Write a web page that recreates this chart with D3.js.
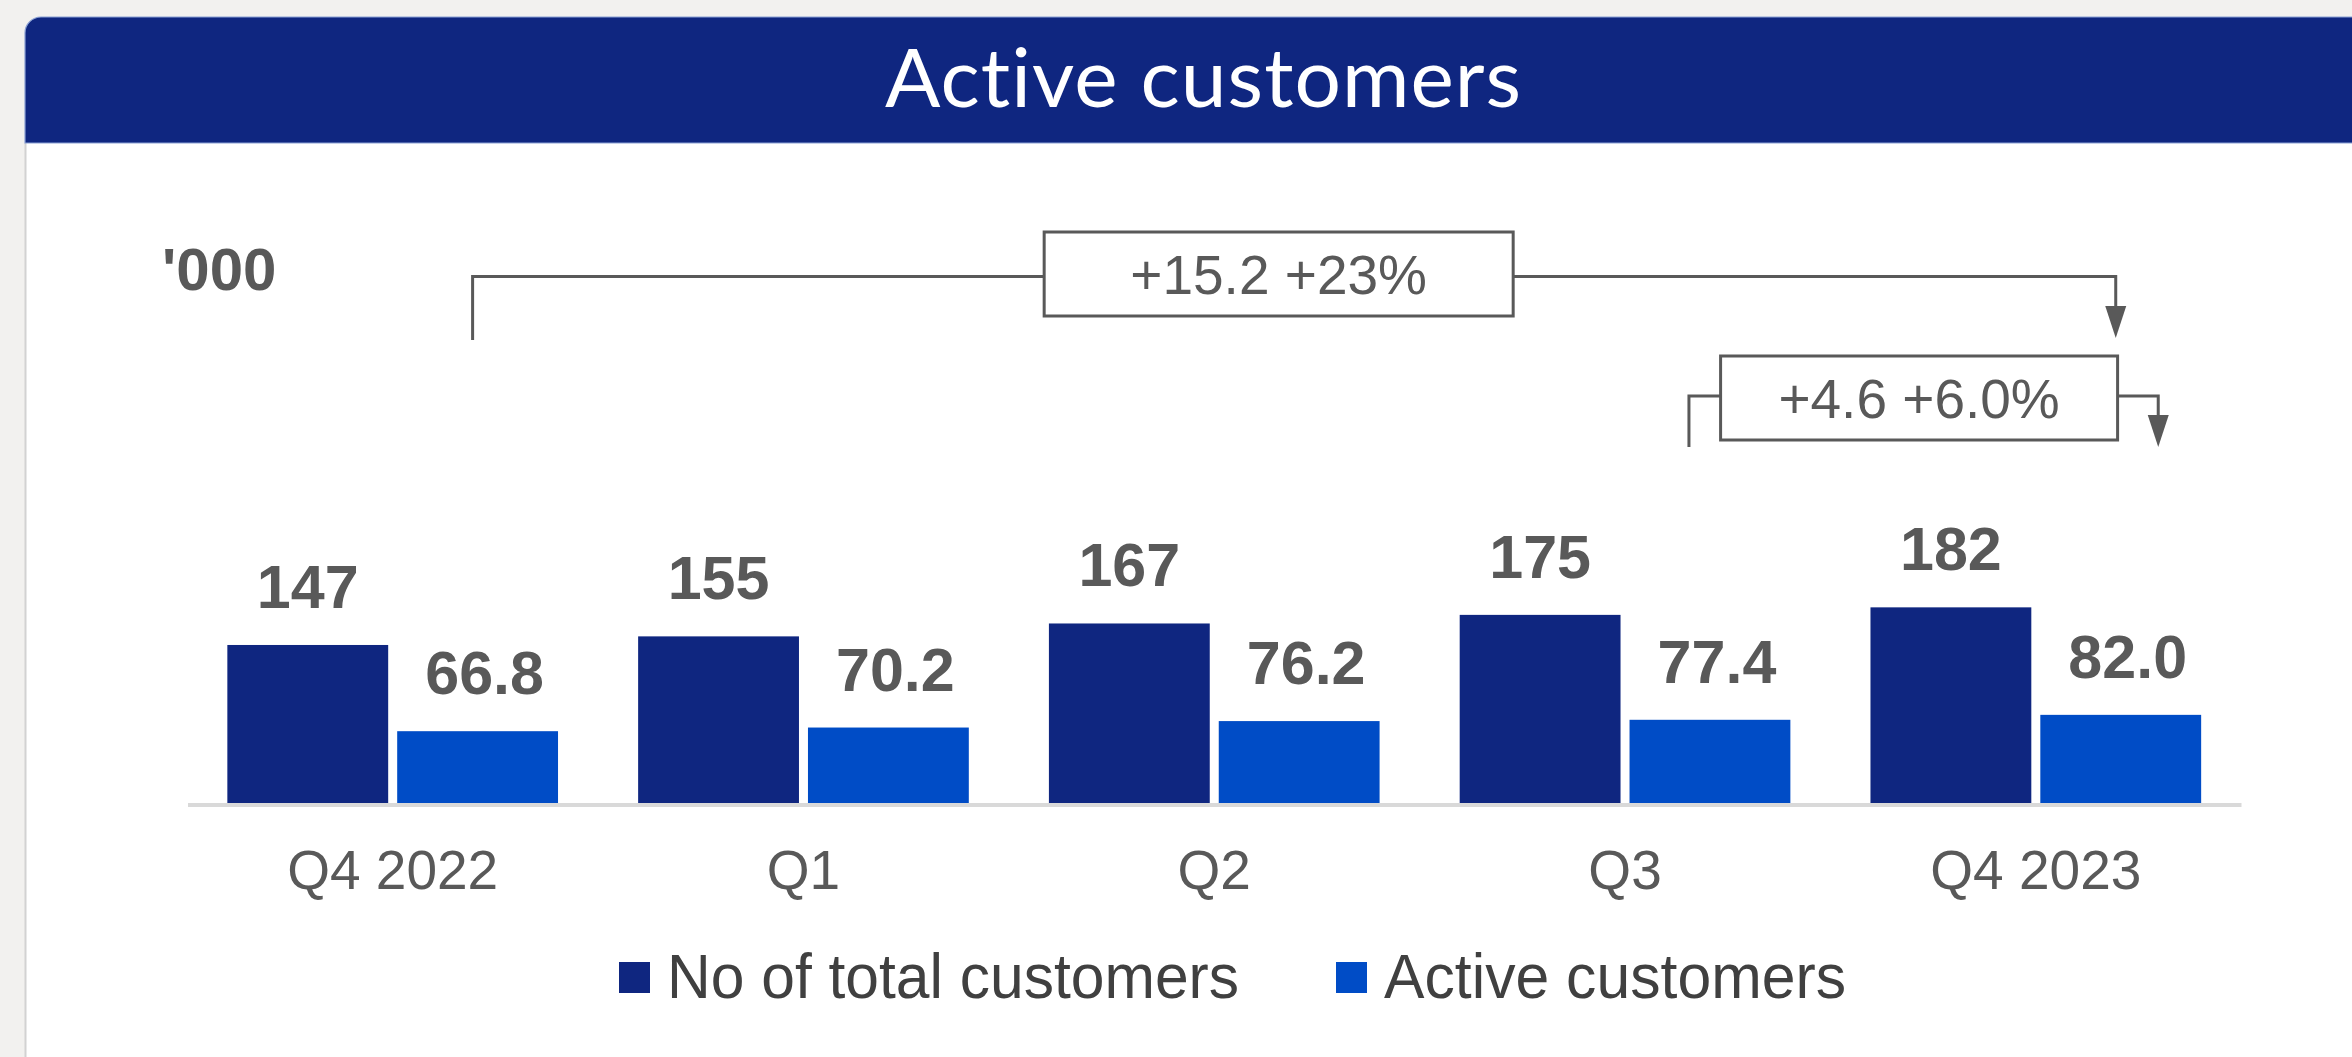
<!DOCTYPE html>
<html>
<head>
<meta charset="utf-8">
<title>Active customers</title>
<script src="https://cdn.jsdelivr.net/npm/d3@7"></script>
<style>
  html, body { margin: 0; padding: 0; background: #f2f1ef; }
  #chart svg { display: block; }
</style>
</head>
<body>
<div id="chart"></div>
<script>
// Data ('000 customers)
const categories = ["Q4 2022", "Q1", "Q2", "Q3", "Q4 2023"];
const seriesNames = ["No of total customers", "Active customers"];
const totalCustomers = [147, 155, 167, 175, 182];
const activeCustomers = [66.8, 70.2, 76.2, 77.4, 82.0];
const seriesColors = ["#0f2680", "#004cc6"];
const changeLabels = ["+15.2 +23%", "+4.6 +6.0%"];
const changeFrom = ["Q4 2022", "Q3"];
const changeTo = ["Q4 2023", "Q4 2023"];

(function(){
    // 1. Dimensions
    const width = 2352;
    const height = 1057;
    const baseline = 803;
    const textGray = "#595959";

    const svg = d3.select("#chart")
        .append("svg")
        .attr("width", width)
        .attr("height", height)
        .attr("viewBox", `0 0 ${width} ${height}`);

    // 2. Panel: white card with navy header
    svg.append("rect")
        .attr("x", 25).attr("y", 143)
        .attr("width", width - 25).attr("height", height - 143)
        .attr("fill", "#ffffff");
    svg.append("line")
        .attr("x1", 25.5).attr("x2", 25.5)
        .attr("y1", 143).attr("y2", height)
        .attr("stroke", "#d2d2d2").attr("stroke-width", 2);

    svg.append("path")
        .attr("d", `M25,143 V33 A16,16 0 0 1 41,17 H${width + 2} V143 Z`)
        .attr("fill", "#0f2680")
        .attr("stroke", "#8aa0d4")
        .attr("stroke-width", 1.2);

    svg.append("text")
        .attr("x", 1203).attr("y", 107)
        .attr("text-anchor", "middle")
        .attr("font-family", "Lato, 'Open Sans', sans-serif")
        .attr("font-size", 82)
        .style("font-variant-ligatures", "none")
        .attr("textLength", 636)
        .attr("lengthAdjust", "spacing")
        .attr("fill", "#ffffff")
        .text("Active customers");

    // unit label
    svg.append("text")
        .attr("x", 162).attr("y", 290)
        .attr("font-family", "'Liberation Sans', Arial, sans-serif")
        .attr("font-weight", "bold")
        .attr("font-size", 60)
        .attr("fill", textGray)
        .text("'000");

    // 3. Scales
    const x0 = d3.scaleBand()
        .domain(categories)
        .range([187.5, 2241])
        .paddingInner(0.195)
        .paddingOuter(0.097);

    const x1 = d3.scaleBand()
        .domain(seriesNames)
        .range([0, x0.bandwidth()])
        .paddingInner(0.053);

    const y = d3.scaleLinear()
        .domain([0, 200])
        .range([baseline, baseline - 215]);

    // 4. Axis (drawn first so bars sit on top of it)
    const xAxis = svg.append("g")
        .attr("transform", `translate(0,${baseline + 1.5})`)
        .call(d3.axisBottom(x0).tickSize(0).tickSizeOuter(0));

    xAxis.select(".domain")
        .attr("stroke", "#d9d9d9")
        .attr("stroke-width", 4);

    xAxis.selectAll(".tick text")
        .attr("y", 889 - baseline - 1.5)
        .attr("dy", 0)
        .attr("font-family", "'Liberation Sans', Arial, sans-serif")
        .attr("font-size", 55)
        .attr("fill", textGray);

    // 5. Bars + value labels
    const rows = categories.map((c, i) => ({
        category: c,
        values: [
            { series: seriesNames[0], value: totalCustomers[i], fmt: d3.format("d"), dx: 0 },
            { series: seriesNames[1], value: activeCustomers[i], fmt: d3.format(".1f"), dx: 7 }
        ]
    }));

    const groups = svg.append("g")
        .selectAll("g")
        .data(rows)
        .join("g")
        .attr("transform", d => `translate(${x0(d.category)},0)`);

    groups.selectAll("rect")
        .data(d => d.values)
        .join("rect")
        .attr("x", d => x1(d.series))
        .attr("y", d => y(d.value))
        .attr("width", x1.bandwidth())
        .attr("height", d => baseline - y(d.value))
        .attr("fill", (d, i) => seriesColors[i]);

    groups.selectAll("text")
        .data(d => d.values)
        .join("text")
        .attr("x", d => x1(d.series) + x1.bandwidth() / 2 + d.dx)
        .attr("y", d => y(d.value) - 37)
        .attr("text-anchor", "middle")
        .attr("font-family", "'Liberation Sans', Arial, sans-serif")
        .attr("font-weight", "bold")
        .attr("font-size", 61)
        .attr("fill", textGray)
        .text(d => d.fmt(d.value));

    // 6. Change annotations (brackets with boxed labels)
    const activeCenter = c => x0(c) + x1(seriesNames[1]) + x1.bandwidth() / 2;
    const ann = svg.append("g")
        .attr("stroke", textGray)
        .attr("stroke-width", 3)
        .attr("fill", "none");

    function arrowHead(xTip, yTip) {
        ann.append("path")
            .attr("d", `M${xTip - 10.5},${yTip - 32} L${xTip + 10.5},${yTip - 32} L${xTip},${yTip} Z`)
            .attr("fill", textGray)
            .attr("stroke", "none");
    }

    function changeBox(cx, cy, w, h, label) {
        ann.append("rect")
            .attr("x", cx - w / 2).attr("y", cy - h / 2)
            .attr("width", w).attr("height", h)
            .attr("fill", "#ffffff");
        svg.append("text")
            .attr("x", cx).attr("y", cy)
            .attr("dy", "0.358em")
            .attr("text-anchor", "middle")
            .attr("font-family", "'Liberation Sans', Arial, sans-serif")
            .attr("font-size", 55)
            .attr("fill", textGray)
            .text(label);
    }

    // long bracket: Q4 2022 -> Q4 2023
    const bx1 = activeCenter(changeFrom[0]) - 5;
    const bx2 = activeCenter(changeTo[0]) - 5;
    const by = 276.5;
    ann.append("path")
        .attr("d", `M${bx1},340 V${by} H${bx2} V310`);
    arrowHead(bx2, 338);
    changeBox((bx1 + bx2) / 2 - 15.5, 274, 469, 84, changeLabels[0]);

    // short bracket: Q3 -> Q4 2023
    const sx1 = activeCenter(changeFrom[1]) - 21;
    const sx2 = activeCenter(changeTo[1]) + 37.5;
    const sy = 396;
    ann.append("path")
        .attr("d", `M${sx1},447 V${sy} H${sx2} V420`);
    arrowHead(sx2, 447);
    changeBox((sx1 + sx2) / 2 - 4.5, 398, 397, 84, changeLabels[1]);

    // 7. Legend
    const legendX = [619, 1336];
    const legendW = [572, 462];
    const legend = svg.append("g")
        .selectAll("g")
        .data(seriesNames)
        .join("g")
        .attr("transform", (d, i) => `translate(${legendX[i]},962)`);

    legend.append("rect")
        .attr("width", 31).attr("height", 31)
        .attr("fill", (d, i) => seriesColors[i]);

    legend.append("text")
        .attr("x", 48).attr("y", 36)
        .attr("font-family", "'Liberation Sans', Arial, sans-serif")
        .attr("font-size", 63)
        .attr("fill", "#404040")
        .attr("textLength", (d, i) => legendW[i])
        .attr("lengthAdjust", "spacingAndGlyphs")
        .text(d => d);
})();
</script>
</body>
</html>
